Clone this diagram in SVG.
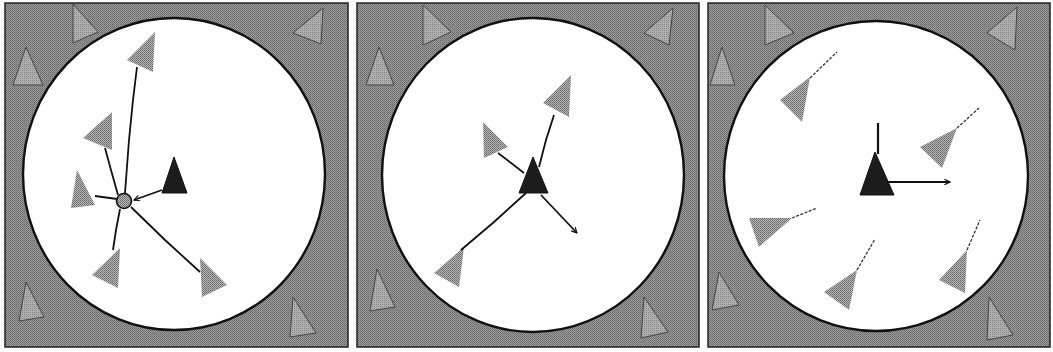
<svg xmlns="http://www.w3.org/2000/svg" width="1053" height="352" viewBox="0 0 1053 352">
<defs>
<pattern id="dither" width="2" height="2" patternUnits="userSpaceOnUse">
<rect width="2" height="2" fill="#9c9c9c"/>
<rect width="1" height="1" fill="#666"/>
<rect x="1" y="1" width="1" height="1" fill="#777"/>
</pattern>
<pattern id="ditherLight" width="2" height="2" patternUnits="userSpaceOnUse">
<rect width="2" height="2" fill="#b8b8b8"/>
<rect width="1" height="1" fill="#666"/>
<rect x="1" y="1" width="1" height="1" fill="#7a7a7a"/>
</pattern>
<pattern id="ditherTri" width="2" height="2" patternUnits="userSpaceOnUse">
<rect width="2" height="2" fill="#b0b0b0"/>
<rect width="1" height="1" fill="#858585"/>
</pattern>
<marker id="open" viewBox="0 0 10 10" refX="9" refY="5" markerWidth="7" markerHeight="7" orient="auto" markerUnits="userSpaceOnUse">
<path d="M1,1 L9,5 L1,9" fill="none" stroke="#111" stroke-width="1.6"/>
</marker>
</defs>
<style>
.panel{fill:url(#dither);stroke:#222;stroke-width:1.5}
.arena{fill:#fff;stroke:#111;stroke-width:2.4}
.bgtri{fill:url(#ditherTri);stroke:#444;stroke-width:1}
.agent{fill:url(#ditherLight);stroke:none}
.self{fill:#1c1c1c;stroke:#111;stroke-width:1}
.link{fill:none;stroke:#111;stroke-width:1.8}
.trail{fill:none;stroke:#333;stroke-width:1.3;stroke-dasharray:3 1.5}
</style>
<rect width="1053" height="352" fill="#fff"/>

<!-- Panel 1 -->
<g id="panel1">
<rect class="panel" x="5" y="3" width="343" height="344"/>
<polygon class="bgtri" points="13,85 43,85 26,47"/>
<polygon class="bgtri" points="73,4 73,43 98,32"/>
<polygon class="bgtri" points="293,33 323,8 321,44"/>
<polygon class="bgtri" points="19,321 44,317 26,282"/>
<polygon class="bgtri" points="290,337 316,333 293,297"/>
<ellipse class="arena" cx="174" cy="174" rx="151" ry="156"/>
</g>
<g id="p1-agents">
<polygon id="p1-a1" class="agent" points="127,60 155,32 153,72"/>
<polygon id="p1-a2" class="agent" points="83,138 112,112 112,150"/>
<polygon id="p1-a3" class="agent" points="71,208 77,170 95,205"/>
<polygon id="p1-a4" class="agent" points="92,275 120,248 118,288"/>
<polygon id="p1-a5" class="agent" points="200,258 227,285 202,297"/>
<polygon id="p1-self" class="self" points="162,193 174,157 187,193"/>
<circle id="p1-center" cx="124" cy="201" r="7.5" fill="url(#ditherLight)" stroke="#111" stroke-width="1.6"/>
</g>
<g id="p1-connectors">
<path class="link" d="M125,193 L129,140 L133,100 L137,67"/>
<path class="link" d="M118,195 L111,170 L105,148"/>
<path class="link" d="M117,199 L95,196"/>
<path class="link" d="M120,209 L116,230 L113,250"/>
<path class="link" d="M131,207 L165,240 L200,272"/>
<path class="link" d="M162,190 L134,200" marker-end="url(#open)"/>
</g>

<!-- Panel 2 -->
<g id="panel2">
<rect class="panel" x="357" y="3" width="342" height="344"/>
<polygon class="bgtri" points="423,5 423,45 451,32"/>
<polygon class="bgtri" points="366,85 394,85 379,47"/>
<polygon class="bgtri" points="644,33 673,8 669,45"/>
<polygon class="bgtri" points="370,311 395,307 377,269"/>
<polygon class="bgtri" points="641,338 668,332 644,297"/>
<ellipse class="arena" cx="533" cy="175" rx="151" ry="157"/>
</g>
<g id="p2-agents">
<polygon id="p2-a1" class="agent" points="543,103 571,75 569,117"/>
<polygon id="p2-a2" class="agent" points="483,122 484,158 508,147"/>
<polygon id="p2-a3" class="agent" points="434,273 464,247 459,287"/>
<polygon id="p2-self" class="self" points="519,193 533,157 548,193"/>
</g>
<g id="p2-connectors">
<path class="link" d="M539,167 L546,140 L554,115"/>
<path class="link" d="M524,173 L498,153"/>
<path class="link" d="M526,193 L494,222 L461,250"/>
<path class="link" d="M541,195 L577,233" marker-end="url(#open)"/>
</g>

<!-- Panel 3 -->
<g id="panel3">
<rect class="panel" x="708" y="3" width="342" height="344"/>
<polygon class="bgtri" points="765,5 765,45 794,33"/>
<polygon class="bgtri" points="710,85 735,85 722,47"/>
<polygon class="bgtri" points="987,33 1017,7 1015,50"/>
<polygon class="bgtri" points="712,310 739,305 719,272"/>
<polygon class="bgtri" points="987,340 1013,335 989,297"/>
<ellipse class="arena" cx="876" cy="176" rx="152" ry="155"/>
</g>
<g id="p3-agents">
<polygon id="p3-a1" class="agent" points="780,100 810,77 802,122"/>
<polygon id="p3-a2" class="agent" points="920,147 957,128 942,168"/>
<polygon id="p3-a3" class="agent" points="749,218 792,218 759,247"/>
<polygon id="p3-a4" class="agent" points="824,292 857,270 849,310"/>
<polygon id="p3-a5" class="agent" points="939,280 967,250 965,293"/>
<polygon id="p3-self" class="self" points="860,195 875,152 894,195"/>
</g>
<g id="p3-connectors">
<path class="trail" d="M810,78 L837,52"/>
<path class="trail" d="M957,128 L979,108"/>
<path class="trail" d="M792,218 L817,208"/>
<path class="trail" d="M857,270 L875,239"/>
<path class="trail" d="M967,250 L980,220"/>
<path d="M878,154 L878,123" fill="none" stroke="#111" stroke-width="2.2"/>
<path class="link" d="M887,182 L950,182" marker-end="url(#open)"/>
</g>
</svg>
